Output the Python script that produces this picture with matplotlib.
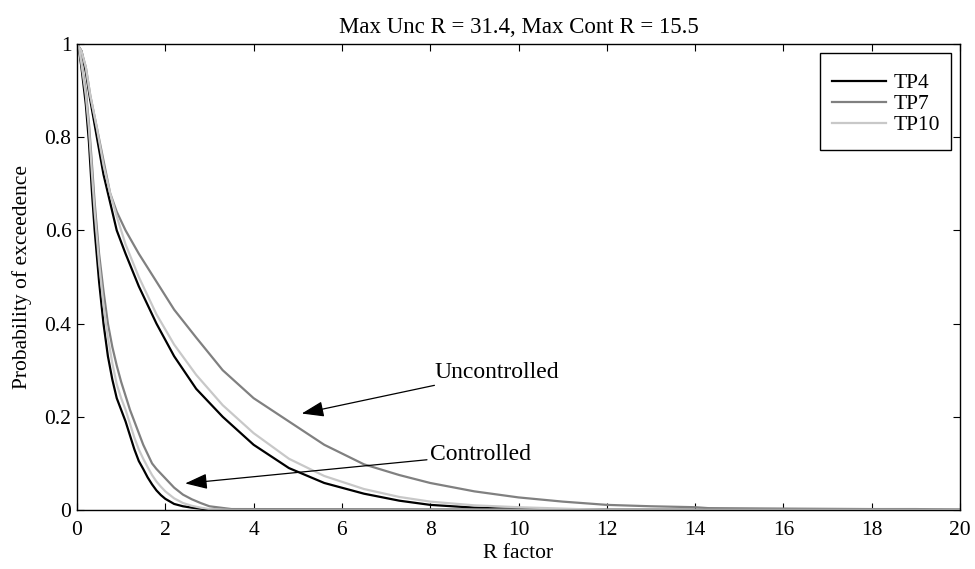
import matplotlib
matplotlib.use("Agg")
import matplotlib.pyplot as plt
from matplotlib.patches import Rectangle

plt.rcParams['font.family'] = ['Liberation Serif', 'DejaVu Serif']

series_names = ["TP4", "TP7", "TP10"]
series_colors = ["#000000", "#808080", "#c8c8c8"]

# Uncontrolled curves
unc_x = {
    "TP4":  [0, 0.1, 0.2, 0.3, 0.45, 0.6, 0.75, 0.9, 1.1, 1.4, 1.8, 2.2, 2.7, 3.3, 4.0, 4.8, 5.6, 6.5, 7.3, 8.0, 9.0, 10.0, 11.0, 20.0],
    "TP7":  [0, 0.1, 0.2, 0.3, 0.45, 0.6, 0.75, 0.9, 1.1, 1.4, 1.8, 2.2, 2.7, 3.3, 4.0, 4.8, 5.6, 6.5, 7.3, 8.0, 9.0, 10.0, 11.0, 12.0, 13.0, 14.0, 14.3, 16.0, 18.0, 19.0, 20.0],
    "TP10": [0, 0.1, 0.2, 0.3, 0.45, 0.6, 0.75, 0.9, 1.1, 1.4, 1.8, 2.2, 2.7, 3.3, 4.0, 4.8, 5.6, 6.5, 7.3, 8.0, 9.0, 10.0, 11.0, 12.0, 20.0],
}
unc_y = {
    "TP4":  [1.0, 0.985, 0.94, 0.88, 0.80, 0.72, 0.66, 0.60, 0.55, 0.48, 0.40, 0.33, 0.26, 0.20, 0.14, 0.09, 0.058, 0.035, 0.02, 0.011, 0.005, 0.002, 0.0, 0.0],
    "TP7":  [1.0, 0.985, 0.95, 0.89, 0.82, 0.75, 0.68, 0.64, 0.60, 0.55, 0.49, 0.43, 0.37, 0.30, 0.24, 0.19, 0.14, 0.098, 0.075, 0.058, 0.04, 0.027, 0.018, 0.011, 0.008, 0.006, 0.004, 0.003, 0.002, 0.002, 0.001],
    "TP10": [1.0, 0.985, 0.95, 0.89, 0.82, 0.74, 0.68, 0.63, 0.57, 0.50, 0.42, 0.355, 0.29, 0.225, 0.165, 0.11, 0.073, 0.045, 0.028, 0.018, 0.01, 0.006, 0.003, 0.0, 0.0],
}

# Controlled curves
ctrl_x = [0, 0.05, 0.1, 0.2, 0.27, 0.34, 0.4, 0.5, 0.6, 0.7, 0.8, 0.9, 1.0, 1.1, 1.2, 1.3, 1.4, 1.5, 1.6, 1.7, 1.8, 1.9, 2.0, 2.2, 2.4, 2.6, 2.8, 3.0, 3.5, 20.0]
ctrl_y = {
    "TP4":  [1.0, 0.985, 0.95, 0.87, 0.79, 0.68, 0.60, 0.49, 0.40, 0.33, 0.28, 0.24, 0.215, 0.19, 0.16, 0.13, 0.105, 0.088, 0.07, 0.055, 0.042, 0.032, 0.024, 0.013, 0.008, 0.005, 0.003, 0.001, 0.0, 0.0],
    "TP7":  [1.0, 0.99, 0.96, 0.90, 0.83, 0.74, 0.66, 0.55, 0.47, 0.40, 0.35, 0.31, 0.275, 0.245, 0.215, 0.19, 0.165, 0.14, 0.12, 0.10, 0.088, 0.078, 0.068, 0.048, 0.033, 0.023, 0.015, 0.008, 0.002, 0.0],
    "TP10": [1.0, 0.99, 0.96, 0.89, 0.82, 0.72, 0.64, 0.53, 0.44, 0.37, 0.315, 0.27, 0.24, 0.215, 0.185, 0.155, 0.13, 0.11, 0.092, 0.075, 0.061, 0.05, 0.04, 0.025, 0.015, 0.009, 0.005, 0.002, 0.0, 0.0],
}

x_ticks = [0, 2, 4, 6, 8, 10, 12, 14, 16, 18, 20]
y_ticks = [0, 0.2, 0.4, 0.6, 0.8, 1.0]
y_tick_labels = ["0", "0.2", "0.4", "0.6", "0.8", "1"]

title = "Max Unc R = 31.4, Max Cont R = 15.5"

W, H = 975, 569
fig = plt.figure(figsize=(W / 100, H / 100), dpi=100)
ax_left, ax_right, ax_top, ax_bottom = 77, 960, 44, 510
ax = fig.add_axes([ax_left / W, 1 - ax_bottom / H, (ax_right - ax_left) / W, (ax_bottom - ax_top) / H])

handles = []
for name, col in zip(series_names, series_colors):
    h, = ax.plot(ctrl_x, ctrl_y[name], color=col, lw=1.6, label=name)
    ax.plot(unc_x[name], unc_y[name], color=col, lw=1.6)
    handles.append(h)

ax.set_xlim(0, 20)
ax.set_ylim(0, 1)
ax.set_xticks(x_ticks)
ax.set_xticklabels([str(t) for t in x_ticks])
ax.set_yticks(y_ticks)
ax.set_yticklabels(y_tick_labels)
ax.tick_params(direction='in', top=True, right=True, length=5, width=0.8,
               labelsize=15.5)
ax.tick_params(axis='x', pad=8)
ax.tick_params(axis='y', pad=4)
for s in ax.spines.values():
    s.set_linewidth(1.0)

ax.set_xlabel("R factor", fontsize=15.5, labelpad=2.5)
ax.set_ylabel("Probability of exceedence", fontsize=15.5, labelpad=9)
ax.set_title(title, fontsize=16.5, pad=8)

# Legend: frame drawn as rectangle matching reference box
def to_axes(px, py):
    return ((px - ax_left) / (ax_right - ax_left), (ax_bottom - py) / (ax_bottom - ax_top))

lx0, ly0 = to_axes(820, 150)
lx1, ly1 = to_axes(951, 53)
ax.add_patch(Rectangle((lx0, ly0), lx1 - lx0, ly1 - ly0, transform=ax.transAxes,
                       facecolor='white', edgecolor='black', lw=1.0, zorder=4))
ax_anchor = to_axes(832, 73)
leg = ax.legend(handles=handles, loc='upper left', bbox_to_anchor=ax_anchor,
                fontsize=15.5, frameon=False,
                borderaxespad=0, labelspacing=0.05, handlelength=2.5,
                handletextpad=0.35, borderpad=0)
leg.set_zorder(5)

arrow_kw = dict(arrowstyle='-|>,head_length=0.8,head_width=0.28', color='black', lw=0.9,
                shrinkA=0, shrinkB=0)
ax.annotate("Uncontrolled", xy=(5.09, 0.207), xytext=(8.1, 0.296),
            fontsize=17, ha='left', va='center', arrowprops=arrow_kw)
ax.annotate("Controlled", xy=(2.45, 0.057), xytext=(7.99, 0.119),
            fontsize=17, ha='left', va='center', arrowprops=arrow_kw)

fig.savefig("out.png", dpi=100)
